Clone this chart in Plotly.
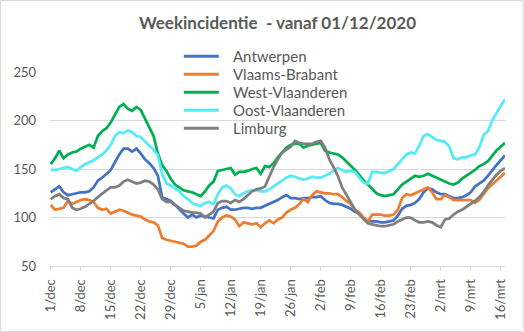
import pandas as pd
import plotly.graph_objects as go

start_date = "2020-12-01"
n_days = 107

tick_labels = ["1/dec", "8/dec", "15/dec", "22/dec", "29/dec", "5/jan", "12/jan",
               "19/jan", "26/jan", "2/feb", "9/feb", "16/feb", "23/feb", "2/mrt",
               "9/mrt", "16/mrt"]

antwerpen = [126, 129, 132, 126, 123, 124, 125, 126, 126, 127, 131, 138, 141, 145, 149, 157,
             165, 171, 171, 168, 171, 166, 160, 156, 151, 143, 121, 119, 117, 113, 108, 104,
             100, 103, 100, 102, 101, 100, 99, 108, 110, 111, 108, 108, 109, 110, 110, 109,
             110, 110, 112, 114, 116, 118, 121, 123, 120, 120, 119, 120, 120, 121, 121, 122,
             118, 115, 114, 114, 113, 111, 109, 106, 104, 99, 97, 96, 96, 95, 95, 96,
             97, 102, 109, 112, 113, 115, 119, 126, 130, 129, 126, 124, 124, 122, 120, 120,
             121, 123, 126, 132, 135, 138, 143, 149, 154, 159, 164]

vlaams_brabant = [113, 108, 109, 110, 117, 114, 116, 118, 119, 118, 116, 110, 108, 109, 104, 106,
                  108, 107, 105, 103, 102, 101, 98, 96, 95, 92, 79, 77, 76, 75, 74, 73,
                  70, 70, 71, 75, 77, 81, 86, 96, 100, 102, 101, 98, 91, 95, 94, 93,
                  94, 90, 94, 97, 94, 98, 100, 105, 108, 110, 114, 119, 116, 123, 127, 126,
                  125, 125, 124, 124, 121, 117, 114, 108, 105, 100, 96, 103, 103, 103, 102, 102,
                  103, 108, 120, 124, 123, 125, 127, 129, 131, 126, 119, 119, 123, 121, 118, 118,
                  118, 118, 118, 115, 118, 124, 130, 134, 138, 142, 146]

west_vlaanderen = [155, 161, 169, 161, 165, 167, 168, 171, 173, 175, 172, 184, 189, 192, 198, 206,
                   214, 217, 212, 210, 214, 211, 202, 194, 184, 166, 154, 148, 140, 134, 131, 128,
                   127, 126, 124, 122, 127, 133, 137, 148, 149, 150, 151, 144, 147, 147, 148, 150,
                   151, 145, 153, 152, 156, 162, 167, 172, 175, 176, 176, 172, 174, 175, 176, 177,
                   169, 167, 166, 165, 162, 158, 153, 149, 144, 138, 134, 129, 125, 123, 122, 123,
                   124, 129, 134, 137, 140, 143, 142, 143, 145, 143, 141, 139, 137, 135, 134, 136,
                   140, 143, 146, 149, 153, 155, 158, 164, 169, 173, 177]

oost_vlaanderen = [149, 149, 150, 151, 152, 150, 148, 152, 155, 157, 159, 162, 165, 169, 175, 184,
                   188, 187, 190, 188, 184, 183, 178, 174, 170, 164, 145, 135, 133, 130, 127, 122,
                   119, 115, 113, 112, 115, 116, 114, 124, 131, 133, 130, 124, 122, 125, 127, 128,
                   128, 127, 127, 129, 132, 135, 138, 141, 143, 142, 140, 139, 140, 142, 141, 141,
                   143, 145, 148, 151, 149, 147, 148, 147, 141, 136, 135, 147, 147, 146, 146, 148,
                   150, 155, 160, 165, 167, 166, 174, 184, 186, 183, 180, 179, 178, 173, 161, 160,
                   162, 162, 164, 165, 172, 185, 189, 200, 208, 215, 222]

limburg = [119, 122, 124, 120, 119, 110, 108, 109, 111, 114, 117, 121, 125, 128, 131, 131,
           133, 137, 139, 137, 135, 136, 138, 137, 134, 129, 119, 116, 116, 113, 110, 107,
           106, 105, 105, 104, 100, 103, 106, 115, 117, 117, 115, 118, 116, 119, 123, 127,
           129, 130, 132, 142, 152, 160, 167, 170, 173, 179, 177, 176, 176, 176, 178, 179,
           172, 160, 152, 143, 131, 123, 115, 108, 103, 98, 94, 93, 92, 91, 91, 92,
           93, 96, 98, 100, 100, 97, 95, 95, 96, 95, 92, 90, 98, 99, 103, 106,
           108, 111, 114, 117, 121, 126, 133, 139, 144, 148, 151]

series = [
    ("Antwerpen", antwerpen, "#4472C4"),
    ("Vlaams-Brabant", vlaams_brabant, "#ED7D31"),
    ("West-Vlaanderen", west_vlaanderen, "#00B050"),
    ("Oost-Vlaanderen", oost_vlaanderen, "#55EAF8"),
    ("Limburg", limburg, "#7F7F7F"),
]

dates = pd.date_range(start_date, periods=n_days, freq="D")
tick_dates = pd.date_range(start_date, periods=len(tick_labels), freq="7D")

fig = go.Figure()
for name, vals, color in series:
    fig.add_trace(go.Scatter(x=dates, y=vals, name=name, mode="lines",
                             line=dict(color=color, width=2.75), showlegend=False))

W, H = 524, 332
ml, mr, mt, mb = 50, 18.5, 72, 66
pw = W - ml - mr
ph = H - mt - mb

txt = "#595959"
grid = "#D9D9D9"
FONT = "Lato"


def px_x(px):
    return (px - ml) / pw


def px_y(py):
    return 1 - (py - mt) / ph


# legend drawn as shapes + annotations (Excel-style tight spacing)
shapes = [dict(type="rect", xref="paper", yref="paper",
               x0=px_x(0.5), x1=px_x(W - 0.5), y0=px_y(H - 0.5), y1=px_y(0.5),
               line=dict(color=grid, width=1), fillcolor="rgba(0,0,0,0)", layer="below")]
annotations = []
for i, (name, vals, color) in enumerate(series):
    ry = 56.3 + 18 * i
    shapes.append(dict(type="line", xref="paper", yref="paper",
                       x0=px_x(184), x1=px_x(219), y0=px_y(ry), y1=px_y(ry),
                       line=dict(color=color, width=3)))
    annotations.append(dict(xref="paper", yref="paper", x=px_x(231), y=px_y(ry),
                            xanchor="left", yanchor="middle", text=name, showarrow=False,
                            font=dict(family=FONT, size=15, color=txt)))

fig.update_layout(
    width=W, height=H,
    margin=dict(l=ml, r=mr, t=mt, b=mb, pad=0),
    paper_bgcolor="white", plot_bgcolor="white",
    font=dict(family=FONT, color=txt, size=13),
    title=dict(text="<b>Weekincidentie  - vanaf 01/12/2020</b>", x=0.5, xanchor="center",
               xref="paper", y=1 - 23 / H, yanchor="middle", yref="container",
               font=dict(family=FONT, size=17, color=txt)),
    showlegend=False,
    xaxis=dict(
        range=[pd.Timestamp(start_date) - pd.Timedelta(hours=4), dates[-1]],
        tickmode="array", tickvals=tick_dates, ticktext=tick_labels, tickangle=-90,
        ticks="outside", ticklen=4, tickcolor=grid, tickwidth=1,
        showline=True, linecolor=grid, linewidth=1,
        showgrid=False, zeroline=False,
        tickfont=dict(family=FONT, size=13, color=txt), ticklabelstandoff=3,
    ),
    yaxis=dict(
        range=[50, 250], tickvals=[50, 100, 150, 200, 250],
        showgrid=True, gridcolor=grid, gridwidth=1, zeroline=False,
        showline=False, ticks="",
        tickfont=dict(family=FONT, size=13, color=txt), ticklabelstandoff=13,
    ),
    shapes=shapes,
    annotations=annotations,
)

fig.write_html("out.html")
